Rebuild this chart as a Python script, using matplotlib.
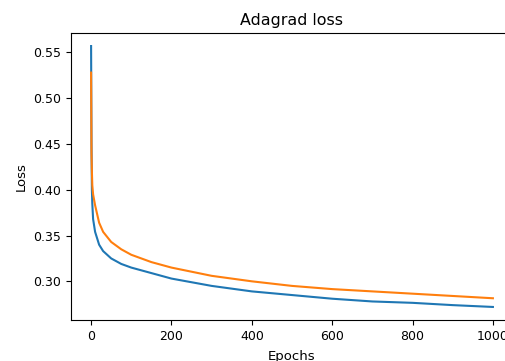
import numpy as np
import matplotlib
matplotlib.use('Agg')
import matplotlib.pyplot as plt

# Loss values at selected epochs
epochs = [0, 1, 2, 3, 5, 10, 20, 30, 50, 75, 100, 150, 200, 300, 400,
          500, 600, 700, 800, 900, 1000]
loss_train = [0.557, 0.45, 0.40, 0.385, 0.368, 0.354, 0.340, 0.333, 0.325,
              0.319, 0.315, 0.309, 0.303, 0.295, 0.289, 0.285, 0.281,
              0.278, 0.2765, 0.274, 0.272]
loss_val = [0.528, 0.44, 0.42, 0.405, 0.395, 0.383, 0.364, 0.354, 0.343,
            0.335, 0.329, 0.321, 0.315, 0.306, 0.300, 0.295, 0.2915,
            0.289, 0.2865, 0.284, 0.2815]

fig = plt.figure(figsize=(5.05, 3.61), dpi=100)
# axes runs past the right edge of the canvas, like the clipped original
ax = fig.add_axes([71 / 505, 41 / 361, 442 / 505, 287 / 361])
ax.plot(epochs, loss_train)
ax.plot(epochs, loss_val)
ax.set_title('Adagrad loss', fontsize=11.4)
ax.set_xlabel('Epochs', fontsize=9.5, labelpad=5)
ax.set_ylabel('Loss', fontsize=9.5)
ax.tick_params(labelsize=9)

fig.savefig('out.png', dpi=100)
